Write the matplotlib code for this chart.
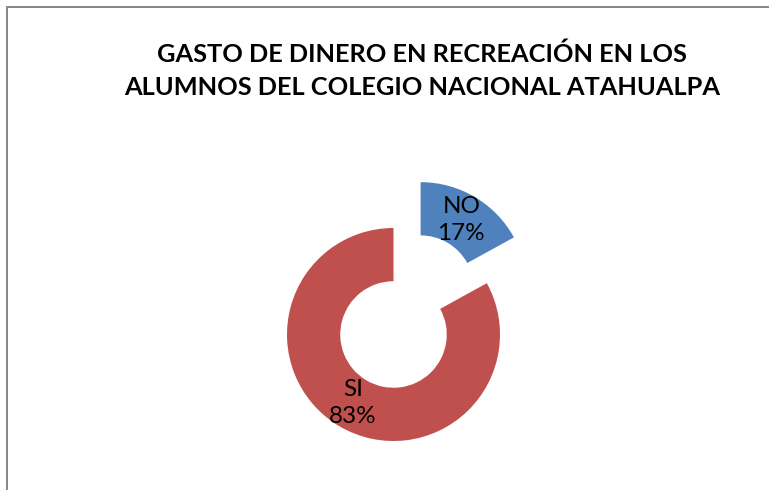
import matplotlib
matplotlib.use("Agg")
import matplotlib.pyplot as plt
from matplotlib.patches import Rectangle

# Data
categories = ["NO", "SI"]
percentages = [17, 83]
colors = ["#4F81BD", "#C0504D"]
title = "GASTO DE DINERO EN RECREACIÓN EN LOS\nALUMNOS DEL COLEGIO NACIONAL ATAHUALPA"

W, H, DPI = 769, 490, 100
plt.rcParams["font.family"] = ["Lato", "DejaVu Sans"]
fig = plt.figure(figsize=(W / DPI, H / DPI), dpi=DPI)

# axes spanning the whole figure, one unit = donut radius
px_per_unit = 106.5
cx, cy = 393.5, 334.5
ax = fig.add_axes([0, 0, 1, 1])

res = ax.pie(
    percentages,
    colors=colors,
    startangle=90,
    counterclock=False,
    explode=[0.5, 0],
    radius=1,
    wedgeprops=dict(width=0.5, linewidth=0),
    autopct=lambda p: f"{p:.0f}%",
    pctdistance=0.75,
    textprops=dict(fontsize=17.5, color="black"),
)
ax.set_xlim(-cx / px_per_unit, (W - cx) / px_per_unit)
ax.set_ylim(-(H - cy) / px_per_unit, cy / px_per_unit)
ax.set_aspect("equal")
ax.axis("off")

# label = category + percentage
for cat, t in zip(categories, res[2]):
    t.set_text(f"{cat}\n{t.get_text()}")
    t.set_linespacing(1.35)

# title
fig.text(422 / W, 1 - 71 / H, title, ha="center", va="center",
         fontsize=18.3, fontweight="bold", linespacing=1.5)

# chart border (runs off the right and bottom edges)
fig.patches.append(Rectangle((7 / W, -0.1), 1.2, 1 - 7 / H + 0.1,
                             transform=fig.transFigure, fill=False,
                             edgecolor="#868686", linewidth=1.4))

fig.savefig("out.png", dpi=DPI)
